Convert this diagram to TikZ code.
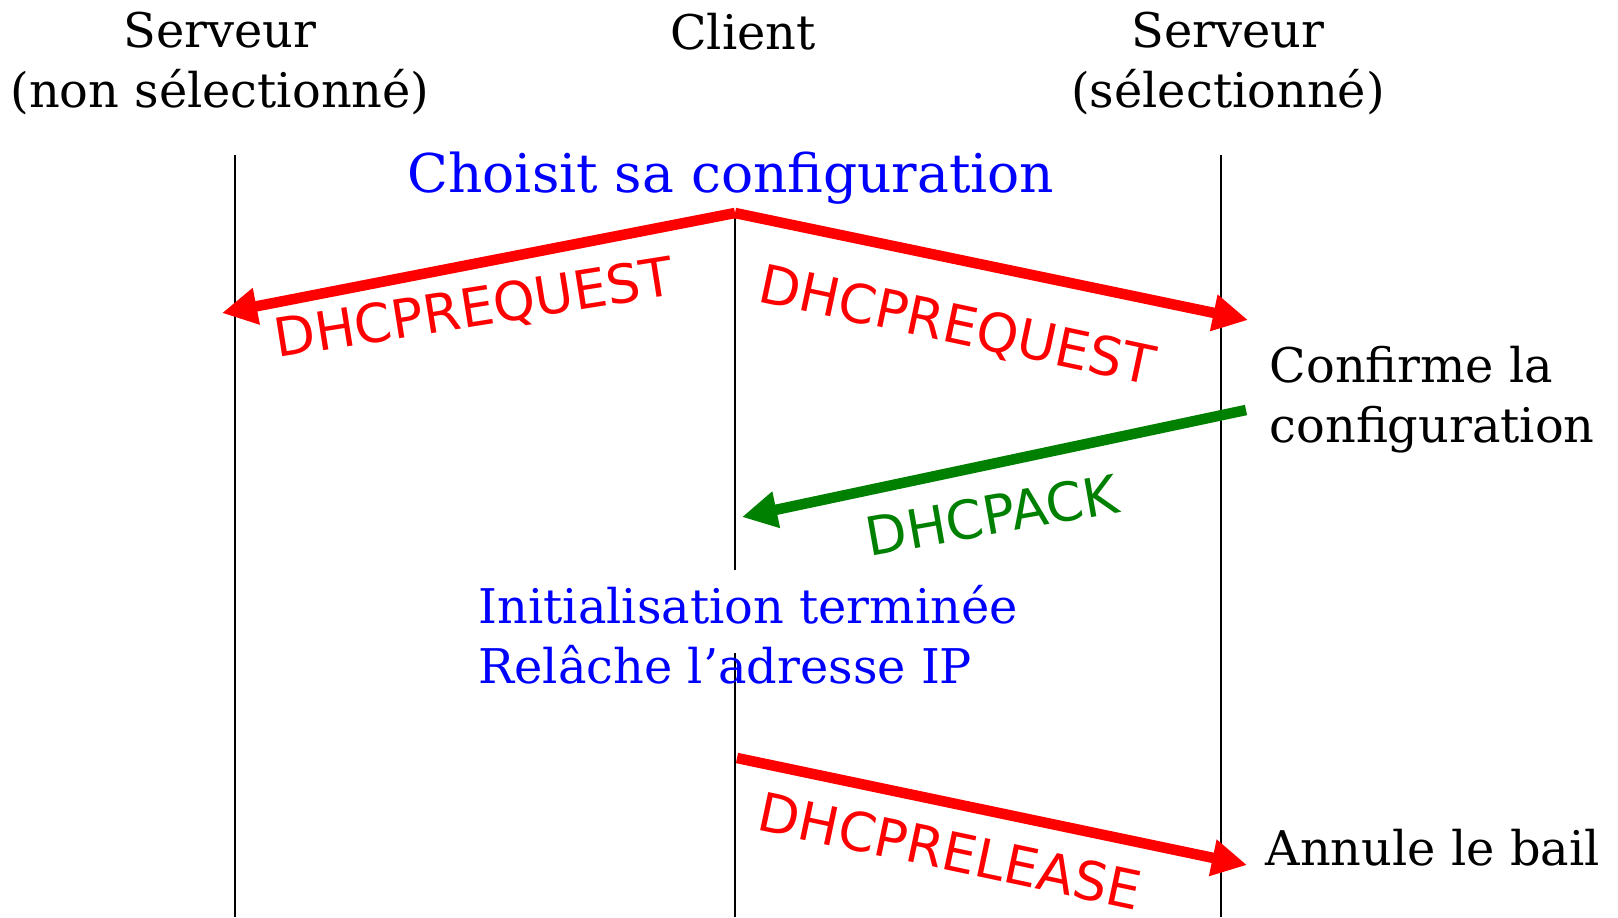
\documentclass[tikz,border=0pt]{standalone}
\usepackage{fontspec}
\setmainfont{DejaVu Serif}
\setsansfont{DejaVu Sans}
\usetikzlibrary{arrows.meta}
\definecolor{ackgreen}{RGB}{0,128,0}

\begin{document}
\begin{tikzpicture}[line join=miter,
  lifeline/.style={line width=0.5pt},
  msg/.style={line width=3pt,-{Triangle[length=3.5mm,width=3.5mm]}},
  msglabel/.style={font=\sffamily\fontsize{15.2}{18}\selectfont,inner sep=0pt},
  actor/.style={font=\fontsize{13.6}{16.8}\selectfont,align=center,inner sep=0pt},
  note/.style={font=\fontsize{13.6}{16.8}\selectfont,align=left,inner sep=0pt}]
  \useasboundingbox (0,0) rectangle (16.18,-9.17);
  % actors (base = last line)
  \node[actor,anchor=base] (srvA) at (2.20,-1.07) {Serveur\\(non sélectionné)};
  \node[actor,anchor=base] (cli) at (7.43,-0.495) {Client};
  \node[actor,anchor=base] (srvB) at (12.28,-1.07) {Serveur\\(sélectionné)};
  % lifelines
  \coordinate (A0) at (2.35,-1.55);
  \coordinate (A1) at (2.35,-9.17);
  \coordinate (C0) at (7.35,-2.12);
  \coordinate (C1) at (7.35,-5.70);
  \coordinate (C2) at (7.35,-6.53);
  \coordinate (C3) at (7.35,-9.17);
  \coordinate (B0) at (12.21,-1.55);
  \coordinate (B1) at (12.21,-9.17);
  \draw[lifeline] (A0) -- (A1);
  \draw[lifeline] (C0) -- (C1);
  \draw[lifeline] (C2) -- (C3);
  \draw[lifeline] (B0) -- (B1);
  % messages
  \coordinate (reqS) at (7.35,-2.13);
  \coordinate (reqA) at (2.22,-3.13);
  \coordinate (reqB) at (12.48,-3.20);
  \coordinate (ackS) at (12.46,-4.10);
  \coordinate (ackE) at (7.42,-5.17);
  \coordinate (relS) at (7.37,-7.58);
  \coordinate (relE) at (12.47,-8.65);
  \draw[msg,red] (reqS) -- (reqA);
  \draw[msg,red] (reqS) -- (reqB);
  \draw[msg,ackgreen] (ackS) -- (ackE);
  \draw[msg,red] (relS) -- (relE);
  \node[msglabel,red,rotate=9] (lblA) at (4.74,-3.10) {DHCPREQUEST};
  \node[msglabel,red,rotate=-12] (lblB) at (9.57,-3.27) {DHCPREQUEST};
  \node[msglabel,ackgreen,rotate=10] (lblK) at (9.92,-5.15) {DHCPACK};
  \node[msglabel,red,rotate=-12] (lblR) at (9.50,-8.51) {DHCPRELEASE};
  % notes
  \node[blue,font=\fontsize{15.2}{18}\selectfont,inner sep=0pt,anchor=base] (pick) at (7.31,-1.92) {Choisit sa configuration};
  \node[note,anchor=base west] (conf) at (12.69,-4.42) {Confirme la\\configuration};
  \node[note,blue,anchor=base west] (init) at (4.78,-6.83) {Initialisation terminée\\Relâche l’adresse IP};
  \node[note,anchor=base west] (bail) at (12.65,-8.65) {Annule le bail};
\end{tikzpicture}
\end{document}
